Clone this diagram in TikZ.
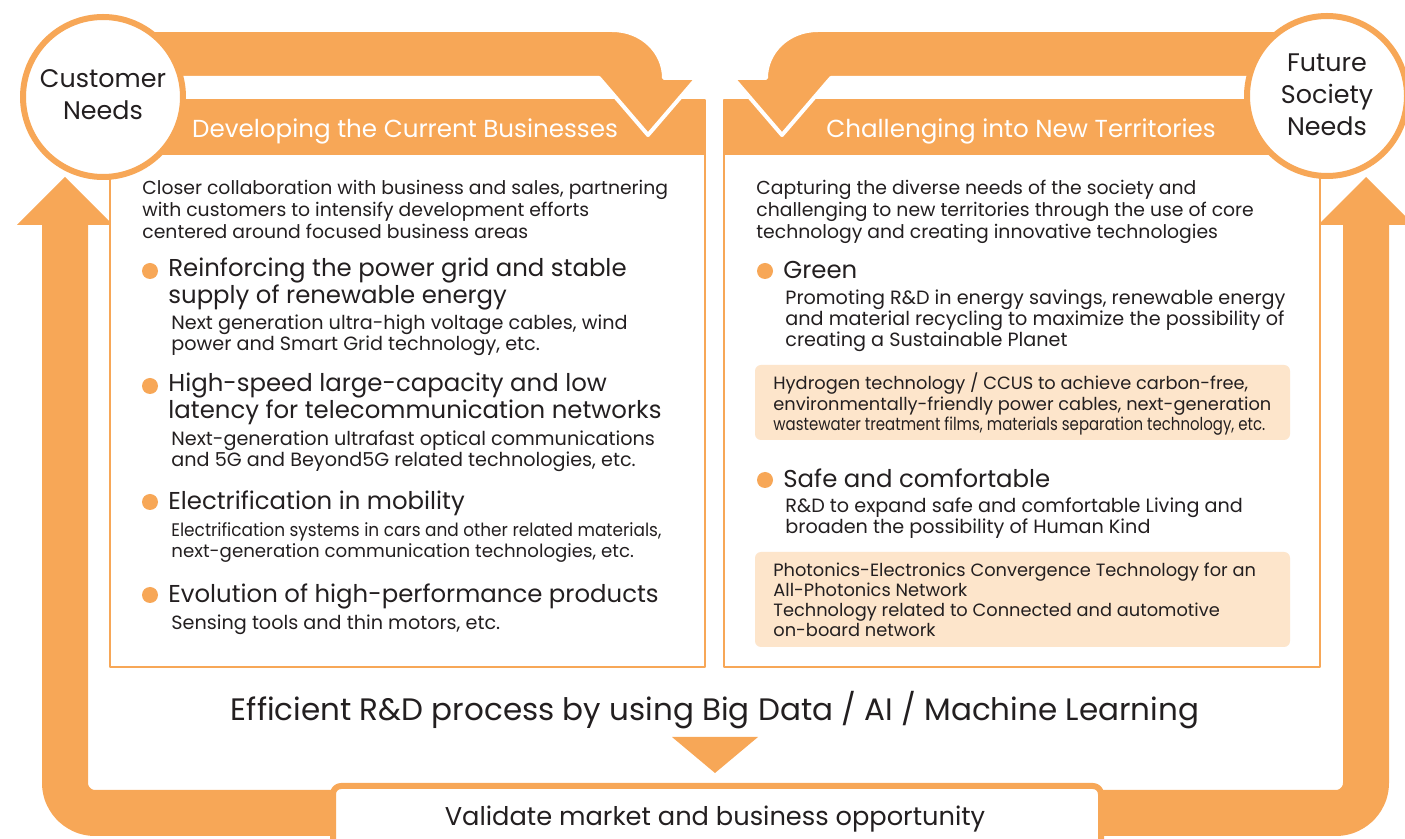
\documentclass[tikz,border=0pt]{standalone}
\usepackage{fontspec}
\setmainfont{Poppins}
\usetikzlibrary{positioning,calc}
\definecolor{orng}{HTML}{F7A757}
\definecolor{peach}{HTML}{FDE5CB}
\definecolor{ink}{HTML}{231F20}

\begin{document}
\begin{tikzpicture}[
        x=0.5pt, y=-0.5pt,
        line join=round,
        every node/.style={inner sep=0pt, text=ink},
        lead/.style={font=\fontsize{9.4}{11}\selectfont, align=left, anchor=base west},
        head/.style={font=\fontsize{12.2}{12.5}\selectfont, align=left, anchor=base west},
        detail/.style={font=\fontsize{9.6}{10.6}\selectfont, align=left, anchor=base west},
        note/.style={font=\fontsize{8.9}{10.4}\selectfont, align=left, anchor=base west},
        bar/.style={font=\fontsize{12.3}{13}\selectfont, text=white, anchor=base},
        needs/.style={font=\fontsize{12.7}{16.2}\selectfont, align=center, anchor=base},
        dot/.style={fill=orng}
    ]

        \useasboundingbox (0,0) rectangle (1405,839);

        % 外圈回路
        \draw[orng, line width=23pt, rounded corners=15pt]
            (65,225) -- (65,813) -- (1366,813) -- (1366,225);
        \fill[orng] (17,225) -- (65,177) -- (113,225) -- cycle;
        \fill[orng] (1318,225) -- (1366,177) -- (1414,225) -- cycle;

        % 两个框
        \draw[orng, line width=1pt, fill=white] (110,100) rectangle (705,667);
        \draw[orng, line width=1pt, fill=white] (724,100) rectangle (1320,667);
        \fill[orng] (110,100) rectangle (705,155);
        \fill[orng] (724,100) rectangle (1320,155);

        % 顶部两个箭头
        \fill[orng, draw=white, line width=2pt]
            (150,30) -- (612,30) .. controls (642,30) and (664,52) .. (664,78)
            -- (697,78) -- (648,135) -- (599,78) -- (150,78) -- cycle;
        \fill[orng, draw=white, line width=2pt]
            (1280,30) -- (818,30) .. controls (788,30) and (766,52) .. (766,78)
            -- (733,78) -- (782,135) -- (831,78) -- (1280,78) -- cycle;

        % 两个圆
        \draw[orng, line width=3pt, fill=white] (103,97) circle[radius=40pt];
        \draw[orng, line width=3pt, fill=white] (1327,96) circle[radius=40pt];
        \node[needs] (cust) at (103,120) {Customer\\Needs};
        \node[needs] (futr) at (1327,136) {Future\\Society\\Needs};

        % 标题栏
        \node[bar] (curr) at (405,138) {Developing the Current Businesses};
        \node[bar] (newt) at (1021,138) {Challenging into New Territories};

        % 左框内容
        \node[lead] (lintro) at (142,239)
            {Closer collaboration with business and sales, partnering\\
             with customers to intensify development efforts\\
             centered around focused business areas};

        \fill[dot] (150,271) circle[radius=4pt];
        \node[head] (grid) at (168,304)
            {Reinforcing the power grid and stable\\supply of renewable energy};
        \node[detail] (gridd) at (171,351)
            {Next generation ultra-high voltage cables, wind\\
             power and Smart Grid technology, etc.};

        \fill[dot] (150,386) circle[radius=4pt];
        \node[head] (tele) at (168,419)
            {High-speed large-capacity and low\\latency for telecommunication networks};
        \node[detail] (teled) at (171,467)
            {Next-generation ultrafast optical communications\\
             and 5G and Beyond5G related technologies, etc.};

        \fill[dot] (150,502) circle[radius=4pt];
        \node[head] (mobi) at (168,510) {Electrification in mobility};
        \node[detail, font=\fontsize{9.1}{10.6}\selectfont] (mobid) at (171,558)
            {\scalebox{0.93}[1]{Electrification systems in cars and other related materials,}\\
             next-generation communication technologies, etc.};

        \fill[dot] (150,595) circle[radius=4pt];
        \node[head] (perf) at (168,603) {Evolution of high-performance products};
        \node[detail] (perfd) at (171,630) {Sensing tools and thin motors, etc.};

        % 右框内容
        \node[lead] (rintro) at (756,239)
            {Capturing the diverse needs of the society and\\
             challenging to new territories through the use of core\\
             technology and creating innovative technologies};

        \fill[dot] (765,271) circle[radius=4pt];
        \node[head] (green) at (783,279) {Green};
        \node[detail] (greend) at (785,347)
            {Promoting R\&D in energy savings, renewable energy\\
             and material recycling to maximize the possibility of\\
             creating a Sustainable Planet};
        \fill[peach, rounded corners=3pt] (755,365) rectangle (1290,440);
        \node[note] (greenn) at (773,431)
            {Hydrogen technology / CCUS to achieve carbon-free,\\
             environmentally-friendly power cables, next-generation\\
             \scalebox{0.84}[1]{wastewater treatment films, materials separation technology, etc.}};

        \fill[dot] (765,480) circle[radius=4pt];
        \node[head] (safe) at (783,488) {Safe and comfortable};
        \node[detail] (safed) at (785,534)
            {R\&D to expand safe and comfortable Living and\\
             broaden the possibility of Human Kind};
        \fill[peach, rounded corners=3pt] (755,552) rectangle (1290,647);
        \node[note, font=\fontsize{8.9}{10.15}\selectfont] (safen) at (773,637)
            {Photonics-Electronics Convergence Technology for an\\
             All-Photonics Network\\
             Technology related to Connected and automotive\\
             on-board network};

        % 底部
        \node[font=\fontsize{15.5}{17}\selectfont, anchor=base] (effi) at (715,721)
            {Efficient R\&D process by using Big Data / AI / Machine Learning};
        \fill[orng] (672,737) -- (758,737) -- (715,773) -- cycle;
        \draw[orng, line width=3pt, fill=white, rounded corners=4pt]
            (333,860) -- (333,786) -- (1101,786) -- (1101,860);
        \node[font=\fontsize{12.85}{14}\selectfont, anchor=base] (vali) at (715,826)
            {Validate market and business opportunity};

    \end{tikzpicture}
\end{document}
